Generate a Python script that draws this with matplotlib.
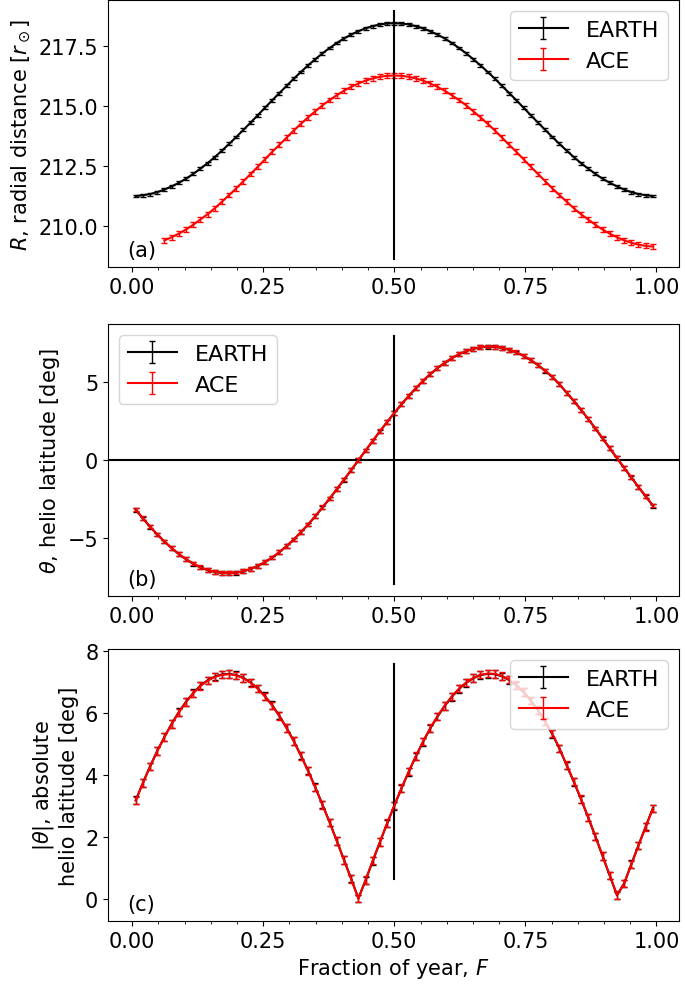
import matplotlib
matplotlib.use("Agg")
import matplotlib.pyplot as plt
import numpy as np

# fraction of year, 5-day bins (73 per year)
frac = [(i + 0.5) / 73 for i in range(73)]

earth_r = [211.25, 211.28, 211.33, 211.41, 211.52, 211.65, 211.80, 211.97, 212.17, 212.39,
           212.62, 212.87, 213.14, 213.42, 213.71, 214.01, 214.31, 214.62, 214.93, 215.24,
           215.54, 215.84, 216.14, 216.42, 216.70, 216.95, 217.20, 217.42, 217.63, 217.82,
           217.98, 218.12, 218.24, 218.33, 218.40, 218.44, 218.45, 218.44, 218.40, 218.33,
           218.24, 218.12, 217.98, 217.82, 217.63, 217.42, 217.20, 216.95, 216.70, 216.42,
           216.14, 215.84, 215.54, 215.24, 214.93, 214.62, 214.31, 214.01, 213.71, 213.42,
           213.14, 212.87, 212.62, 212.39, 212.17, 211.97, 211.80, 211.65, 211.52, 211.41,
           211.33, 211.28, 211.25]

# ACE radial distance is missing for the first 4 bins
ace_r_start = 4
ace_r = [209.40, 209.53, 209.68, 209.85, 210.05, 210.27, 210.49, 210.74, 211.01, 211.29,
         211.57, 211.87, 212.17, 212.47, 212.78, 213.09, 213.38, 213.68, 213.98, 214.26,
         214.53, 214.78, 215.03, 215.25, 215.45, 215.64, 215.80, 215.94, 216.06, 216.15,
         216.22, 216.26, 216.27, 216.26, 216.22, 216.15, 216.06, 215.94, 215.80, 215.64,
         215.45, 215.25, 215.03, 214.78, 214.53, 214.26, 213.98, 213.68, 213.38, 213.09,
         212.78, 212.47, 212.17, 211.87, 211.57, 211.29, 211.01, 210.74, 210.49, 210.27,
         210.05, 209.85, 209.68, 209.53, 209.40, 209.30, 209.22, 209.17, 209.14]

earth_lat = [-3.18, -3.74, -4.27, -4.77, -5.22, -5.64, -6.02, -6.35, -6.63, -6.87,
             -7.04, -7.16, -7.23, -7.25, -7.21, -7.12, -6.97, -6.78, -6.53, -6.24,
             -5.90, -5.51, -5.09, -4.62, -4.13, -3.60, -3.04, -2.47, -1.87, -1.26,
             -0.65, -0.02, 0.60, 1.22, 1.83, 2.43, 3.00, 3.56, 4.09, 4.59,
             5.06, 5.49, 5.87, 6.21, 6.51, 6.76, 6.96, 7.11, 7.21, 7.25,
             7.24, 7.17, 7.05, 6.88, 6.66, 6.39, 6.07, 5.71, 5.31, 4.84,
             4.30, 3.77, 3.21, 2.62, 2.01, 1.38, 0.75, 0.12, -0.50, -1.12,
             -1.73, -2.33, -2.92]

ace_lat = [-3.17, -3.73, -4.26, -4.76, -5.21, -5.63, -6.01, -6.34, -6.62, -6.86,
           -7.03, -7.15, -7.22, -7.24, -7.20, -7.11, -6.96, -6.77, -6.52, -6.23,
           -5.89, -5.50, -5.08, -4.61, -4.12, -3.59, -3.03, -2.46, -1.86, -1.25,
           -0.64, -0.01, 0.61, 1.23, 1.84, 2.44, 3.01, 3.57, 4.10, 4.60,
           5.07, 5.50, 5.88, 6.22, 6.52, 6.77, 6.97, 7.12, 7.22, 7.26,
           7.25, 7.18, 7.06, 6.89, 6.67, 6.40, 6.08, 5.72, 5.32, 4.85,
           4.31, 3.78, 3.22, 2.63, 2.02, 1.39, 0.76, 0.13, -0.49, -1.11,
           -1.72, -2.32, -2.91]

earth_r_err = 0.06
ace_r_err = 0.10
lat_err = 0.12

# vertical marker at mid-year (x, y-span per panel)
mid_x = 0.5
mid_span = [(208.63, 218.96), (-7.95, 7.95), (0.64, 7.57)]

plt.rcParams['font.size'] = 15

fig = plt.figure(figsize=(6.85, 9.87), dpi=100)
W, H = 685.0, 987.0
left, right = 108, 679
boxes = [(1, 268), (325, 597), (650, 922)]
axes = []
for top, bot in boxes:
    axes.append(fig.add_axes([left / W, 1 - bot / H, (right - left) / W, (bot - top) / H]))

ace_frac = frac[ace_r_start:]
earth_abs = np.abs(earth_lat)
ace_abs = np.abs(ace_lat)

panels = [
    (earth_r, earth_r_err, ace_frac, ace_r, ace_r_err, 'upper right', '(a)',
     r'$R$, radial distance [$r_\odot$]'),
    (earth_lat, lat_err, frac, ace_lat, lat_err, 'upper left', '(b)',
     r'$\theta$, helio latitude [deg]'),
    (earth_abs, lat_err, frac, ace_abs, lat_err, 'upper right', '(c)',
     '$|\\theta|$, absolute\nhelio latitude [deg]'),
]

for ii, (ax, (ey, eerr, ax_x, ay, aerr, loc, tag, ylab)) in enumerate(zip(axes, panels)):
    ax.errorbar(frac, ey, yerr=eerr, color='k', capsize=2, lw=1.5, elinewidth=1, label='EARTH')
    ax.errorbar(ax_x, ay, yerr=aerr, color='r', capsize=2, lw=1.5, elinewidth=1, label='ACE')
    ax.plot([mid_x, mid_x], mid_span[ii], color='k', lw=1.5)
    if ii == 1:
        ax.axhline(0, color='k', lw=1.5)
    ax.legend(loc=loc, fontsize=16, handlelength=2.2)
    ax.text(0.033, 0.04, tag, transform=ax.transAxes, fontsize=15)
    ax.set_ylabel(ylab)
    ax.set_xlim(-0.046, 1.043)
    ax.set_xticks([0, 0.25, 0.5, 0.75, 1.0])
    ax.set_xticklabels(['0.00', '0.25', '0.50', '0.75', '1.00'])
    ax.set_xticks(np.arange(0, 1.01, 0.05), minor=True)

axes[0].set_ylim(208.29, 219.42)
axes[0].set_yticks([210.0, 212.5, 215.0, 217.5])
axes[0].set_yticklabels(['210.0', '212.5', '215.0', '217.5'])
axes[1].set_ylim(-8.7, 8.7)
axes[1].set_yticks([-5, 0, 5])
axes[2].set_ylim(-0.71, 8.05)
axes[2].set_yticks([0, 2, 4, 6, 8])
axes[2].set_xlabel(r'Fraction of year, $F$')

fig.savefig('out.png', dpi=100)
